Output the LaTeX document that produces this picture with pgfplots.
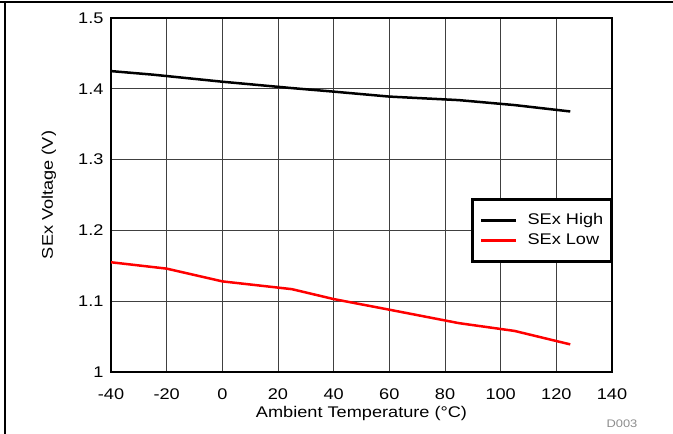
\documentclass[border=0pt]{standalone}
\usepackage{pgfplots}
\pgfplotsset{compat=1.18}
\usepackage{fontspec}
\setmainfont{Liberation Sans}[FakeStretch=1.176]
\begin{document}
\begin{tikzpicture}
\useasboundingbox (0bp,0bp) rectangle (673bp,434bp);
\draw[line width=1.2bp] (0bp,432bp) -- (672.5bp,432bp);
\draw[line width=1.2bp] (5bp,432bp) -- (5bp,0bp);
\begin{axis}[
  at={(111bp,62bp)}, anchor=south west,
  scale only axis, width=501bp, height=354bp,
  xmin=-40, xmax=140, ymin=1, ymax=1.5,
  xtick={-40,-20,...,140}, ytick={1,1.1,...,1.5},
  yticklabels={1,1.1,1.2,1.3,1.4,1.5},
  grid=major,
  major grid style={black!75, line width=0.9bp},
  axis line style={line width=2.8bp},
  major tick length=0pt,
  tick label style={font=\fontsize{15.5}{18}\selectfont},
  /pgf/number format/assume math mode=true,
  xticklabel style={yshift=-13bp},
  yticklabel style={xshift=-4bp},
  xlabel={Ambient Temperature (°C)},
  ylabel={SEx Voltage (V)},
  label style={font=\fontsize{15.5}{18}\selectfont},
  xlabel style={at={(axis description cs:0.5,-0.116)}, anchor=center},
  ylabel style={at={(axis description cs:-0.124,0.5)}, anchor=center},
  legend style={at={(rel axis cs:1,0.4915)}, anchor=north east,
    font=\fontsize{15.5}{18}\selectfont, line width=2.5bp, draw=black,
    inner xsep=7.5bp, inner ysep=13bp, row sep=4bp,
    nodes={inner sep=0pt, text height=12bp, text depth=4bp},
    /tikz/every odd column/.append style={column sep=10bp}},
  legend cell align=left,
  legend image code/.code={\draw[#1, line width=2.5bp] (0bp,0bp) -- (35bp,0bp);},
]
\addplot[black, line width=2.5bp] coordinates {
(-40,1.425) (-25,1.420) (0,1.410) (25,1.401) (40,1.396) (60,1.389) (85,1.384) (105,1.377) (125,1.368)};
\addlegendentry{SEx High}
\addplot[red, line width=2.5bp] coordinates {
(-40,1.155) (-20,1.146) (0,1.128) (25,1.117) (40,1.103) (60,1.088) (85,1.069) (105,1.058) (125,1.039)};
\addlegendentry{SEx Low}
\end{axis}
\node[text=black!45, font=\fontsize{11}{13}\selectfont] at (622bp,10bp) {D003};
\end{tikzpicture}
\end{document}
